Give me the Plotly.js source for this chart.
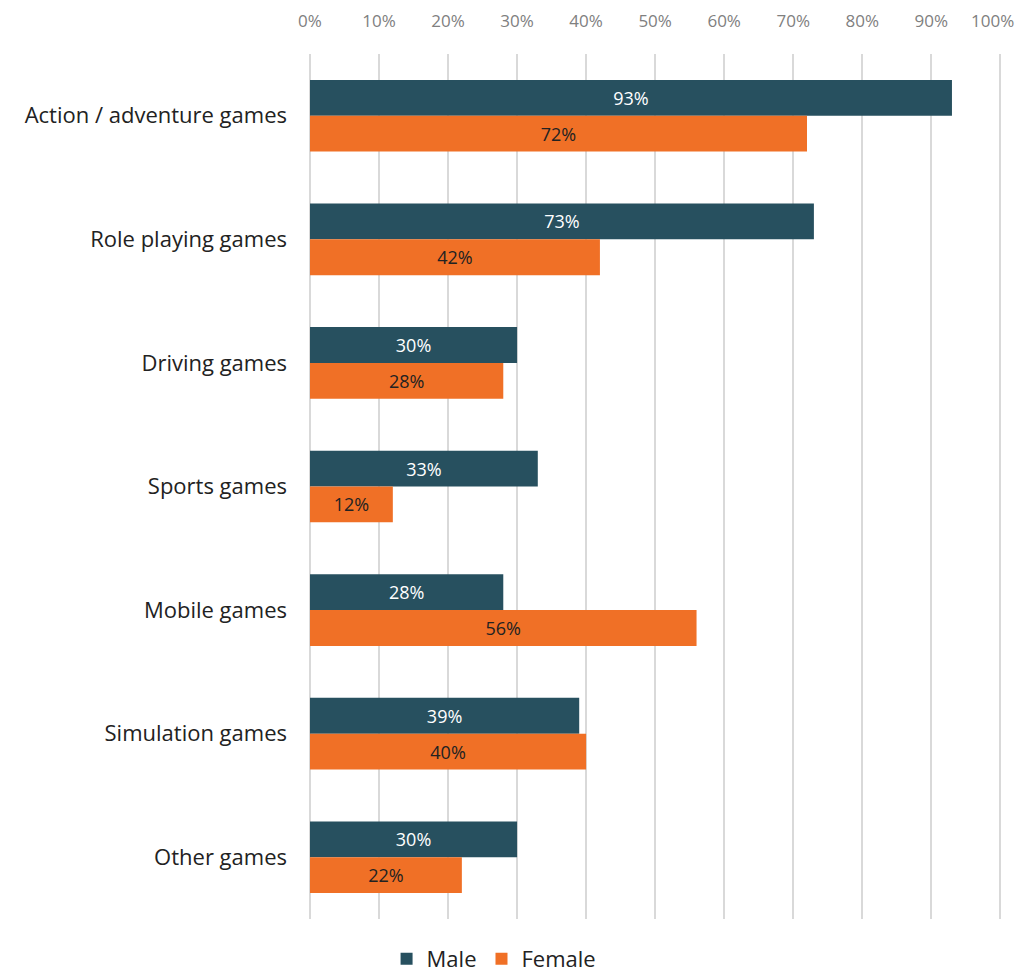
<!DOCTYPE html>
<html>
<head>
<meta charset="utf-8">
<script src="https://cdn.plot.ly/plotly-3.0.1.min.js"></script>
<style>html,body{margin:0;padding:0;background:#fff;}#chart{width:1019px;height:975px;}</style>
</head>
<body>
<div id="chart"></div>
<script>
var categories = ["Action / adventure games", "Role playing games", "Driving games", "Sports games", "Mobile games", "Simulation games", "Other games"];
var maleValues = [93, 73, 30, 33, 28, 39, 30];
var femaleValues = [72, 42, 28, 12, 56, 40, 22];
var tickValues = [0, 10, 20, 30, 40, 50, 60, 70, 80, 90, 100];
var tickLabels = ["0%", "10%", "20%", "30%", "40%", "50%", "60%", "70%", "80%", "90%", "100%"];

var maleColor = "#27505f";
var femaleColor = "#f07026";

var last = tickLabels.length - 1;
// last tick label is drawn as an annotation so it can stay inside the page
var shownTickText = tickLabels.map(function(t, i){ return i === last ? "" : t; });

var traces = [
  {
    type: "bar", orientation: "h", name: "Male",
    y: categories, x: maleValues,
    marker: {color: maleColor},
    text: maleValues.map(function(v){ return v + "%"; }),
    textposition: "inside", insidetextanchor: "middle",
    textfont: {color: "#ffffff", size: 18, family: "Open Sans, sans-serif"},
    hoverinfo: "x+y"
  },
  {
    type: "bar", orientation: "h", name: "Female",
    y: categories, x: femaleValues,
    marker: {color: femaleColor},
    text: femaleValues.map(function(v){ return v + "%"; }),
    textposition: "inside", insidetextanchor: "middle",
    textfont: {color: "#222222", size: 18, family: "Open Sans, sans-serif"},
    hoverinfo: "x+y"
  }
];

var layout = {
  width: 1019, height: 975,
  margin: {l: 310, r: 17, t: 54, b: 56, pad: 0, autoexpand: false},
  paper_bgcolor: "#ffffff", plot_bgcolor: "#ffffff",
  barmode: "group", bargap: 0.42, bargroupgap: 0,
  font: {family: "Open Sans, sans-serif"},
  xaxis: {
    side: "top", range: [0, 100.25], tickvals: tickValues, ticktext: shownTickText,
    showgrid: true, gridcolor: "#d9d9d9", gridwidth: 2,
    zeroline: true, zerolinecolor: "#d9d9d9", zerolinewidth: 2,
    tickfont: {size: 17, color: "#808080"},
    ticks: "", ticklabelstandoff: 23, ticklabeloverflow: "allow", fixedrange: true
  },
  yaxis: {
    autorange: "reversed", showgrid: false, zeroline: false,
    tickfont: {size: 22, color: "#222222"},
    ticks: "", ticklabelstandoff: 22, fixedrange: true
  },
  annotations: [{
    x: tickValues[last], xref: "x", y: 1, yref: "paper",
    text: tickLabels[last], showarrow: false,
    xanchor: "right", yanchor: "middle", xshift: 16, yshift: 34,
    font: {size: 17, color: "#808080", family: "Open Sans, sans-serif"}
  }],
  showlegend: true,
  legend: {
    orientation: "h", x: 0.266, xanchor: "center", y: -0.022, yanchor: "top",
    font: {size: 22, color: "#222222"}, traceorder: "normal",
    itemwidth: 30
  }
};

Plotly.newPlot("chart", traces, layout, {displayModeBar: false, staticPlot: true});
</script>
</body>
</html>
